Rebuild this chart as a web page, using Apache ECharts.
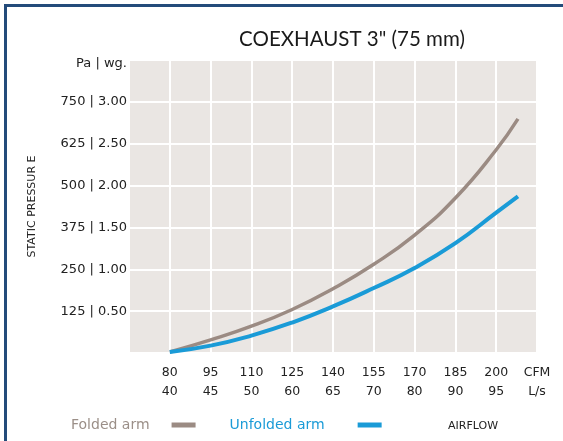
<!DOCTYPE html>
<html>
<head>
<meta charset="utf-8">
<script src="https://cdn.jsdelivr.net/npm/echarts@6/dist/echarts.min.js"></script>
<style>
  html, body { margin: 0; padding: 0; background: #fff; }
  #chart { width: 563px; height: 441px; }
</style>
</head>
<body>
<div id="chart"></div>
<script>
// airflow ticks: CFM on top row, L/s below
var cfmTicks = [80, 95, 110, 125, 140, 155, 170, 185, 200];
var lsTicks = [40, 45, 50, 60, 65, 70, 80, 90, 95];

// curve points (CFM -> Pa)
var cfm = [80, 95, 110, 125, 140, 155, 170, 185, 200, 208];
var folded = [3, 39, 80, 130, 192, 265, 352, 463, 607, 699];
var unfolded = [3, 22, 52, 91, 139, 194, 254, 328, 419, 468];

function pairs(xs, ys) {
  var out = [];
  for (var i = 0; i < xs.length; i++) out.push([xs[i], ys[i]]);
  return out;
}

var font = 'DejaVu Sans';
var chart = echarts.init(document.getElementById('chart'));

var option = {
  animation: false,
  textStyle: { fontFamily: font },
  title: [{
    text: 'COEXHAUST 3" (75 mm)',
    left: 347,
    top: 24,
    textAlign: 'center',
    textStyle: { fontFamily: 'Lato', fontSize: 20.5, fontWeight: 'normal', color: '#1a1a1a' }
  }, {
    text: 'AIRFLOW',
    left: 443,
    top: 416,
    textStyle: { fontFamily: font, fontSize: 11, fontWeight: 'normal', color: '#222' }
  }],
  legend: {
    left: 66,
    top: 413,
    align: 'right',
    icon: 'rect',
    itemWidth: 24,
    itemHeight: 5,
    itemGap: 34,
    textStyle: { fontFamily: font, fontSize: 14 },
    data: [
      { name: 'Folded arm', textStyle: { color: '#9b8f88', padding: [0, 17, 0, 0] } },
      { name: 'Unfolded arm', textStyle: { color: '#1a9bd7', padding: [0, 28, 0, 0] } }
    ]
  },
  grid: {
    left: 129,
    right: 26,
    top: 60,
    height: 293,
    show: true,
    backgroundColor: '#eae6e3',
    borderWidth: 0
  },
  xAxis: {
    type: 'value',
    min: 65,
    max: 215,
    interval: 15,
    axisLine: { show: false },
    axisTick: { show: false },
    splitLine: { show: true, lineStyle: { color: '#fff', width: 2 } },
    axisLabel: {
      showMinLabel: true,
      showMaxLabel: true,
      margin: 10,
      fontSize: 12.5,
      lineHeight: 19,
      color: '#222',
      formatter: function (v) {
        if (v === 215) return 'CFM\nL/s';
        var i = cfmTicks.indexOf(v);
        if (i < 0) return '';
        return cfmTicks[i] + '\n' + lsTicks[i];
      }
    }
  },
  yAxis: {
    type: 'value',
    min: 0,
    max: 875,
    interval: 125,
    name: 'STATIC PRESSUR E',
    nameLocation: 'middle',
    nameRotate: 90,
    nameGap: 91,
    nameTextStyle: { fontFamily: font, fontSize: 11, color: '#222' },
    axisLine: { show: false },
    axisTick: { show: false },
    splitLine: { show: true, lineStyle: { color: '#fff', width: 2 } },
    axisLabel: {
      margin: 2,
      fontSize: 13,
      color: '#222',
      formatter: function (v) {
        if (v === 0) return '';
        if (v === 875) return '{u|Pa | wg.}';
        return v + ' | ' + (v / 250).toFixed(2);
      },
      rich: { u: { fontFamily: font, fontSize: 13, color: '#222', padding: [8, 0, 0, 0] } }
    }
  },
  series: [{
    name: 'Folded arm',
    type: 'line',
    smooth: true,
    showSymbol: false,
    color: '#9b8b83',
    lineStyle: { width: 3.5, color: '#9b8b83' },
    data: pairs(cfm, folded)
  }, {
    name: 'Unfolded arm',
    type: 'line',
    smooth: true,
    showSymbol: false,
    color: '#1a9bd7',
    lineStyle: { width: 4, color: '#1a9bd7' },
    data: pairs(cfm, unfolded)
  }],
  graphic: [{
    type: 'rect',
    shape: { x: 5.5, y: 5.5, width: 700, height: 700 },
    style: { fill: 'none', stroke: '#234b7a', lineWidth: 3 },
    silent: true
  }]
};

chart.setOption(option);
</script>
</body>
</html>
